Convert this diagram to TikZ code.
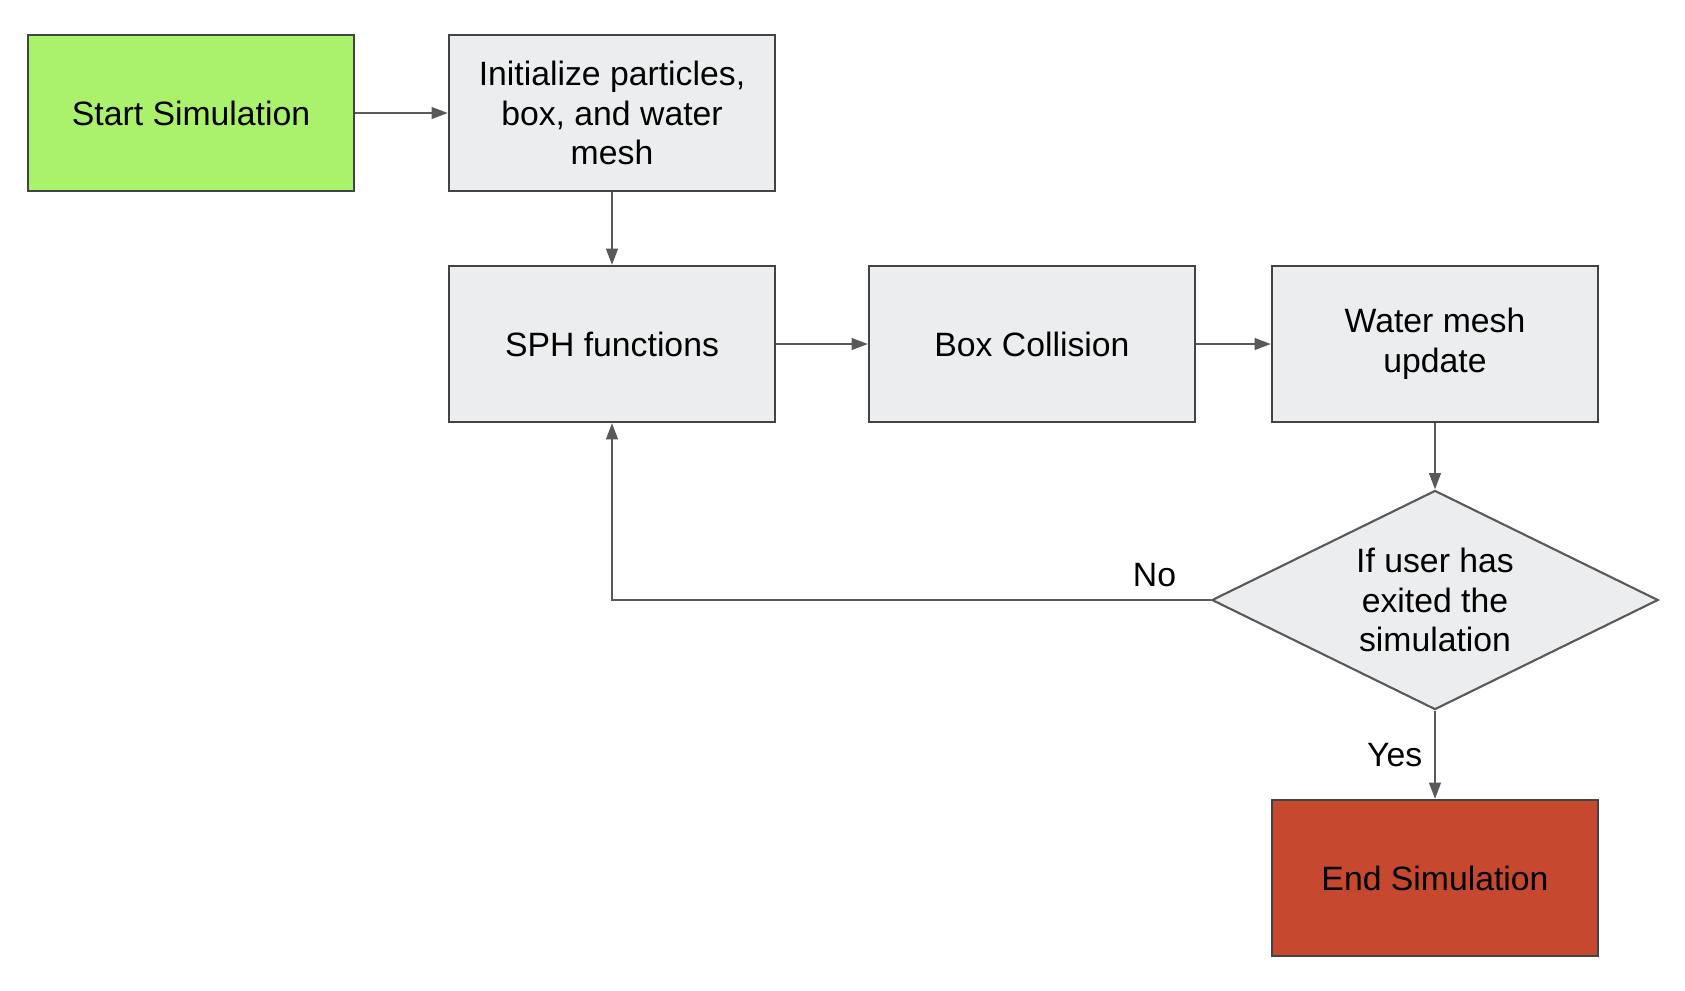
\documentclass[tikz,border=0pt]{standalone}
\usepackage{fontspec}
\setmainfont{Liberation Sans}
\usetikzlibrary{
  positioning,
  arrows.meta,
  shapes.geometric
}
\definecolor{startgreen}{HTML}{ABF26C}
\definecolor{stepgrey}{HTML}{ECEDEE}
\definecolor{endred}{HTML}{C5482F}
\definecolor{edgegrey}{HTML}{434343}
\definecolor{linegrey}{HTML}{595959}

\begin{document}
\begin{tikzpicture}[
    x=0.01cm, y=-0.01cm, >={Triangle[length=4.6pt,width=3.3pt]},
    font=\fontsize{9.6}{11.3}\selectfont,
    stepbox/.style={
      rectangle,
      draw=edgegrey,
      fill=stepgrey,
      line width=0.6pt,
      align=center,
      minimum width=3.26cm,
      minimum height=1.56cm,
      inner sep=0pt
    },
    decision/.style={
      diamond,
      draw=linegrey,
      fill=stepgrey,
      line width=0.6pt,
      align=center,
      aspect=2,
      minimum width=4.46cm,
      minimum height=2.19cm,
      inner sep=0pt
    },
    flow/.style={
      draw=linegrey,
      line width=0.6pt,
      ->
    }
  ]
  \useasboundingbox (0,0) rectangle (1685,990);

  \begin{scope}
    \node[stepbox, fill=startgreen] (start) at (191,113) {Start Simulation};
    \node[stepbox] (init) at (612,113) {Initialize particles,\\box, and water\\mesh};

    \node[stepbox] (sph) at (612,344) {SPH functions};
    \node[stepbox] (collide) at (1032,344) {Box Collision};
    \node[stepbox] (mesh) at (1435,344) {Water mesh\\update\vphantom{g}};

    \node[decision] (exited) at (1435,600) {If user has\\exited the\\simulation};

    \node[stepbox, fill=endred] (finish) at (1435,878) {End Simulation};

    \draw[flow] (start) -- (init);
    \draw[flow] (init) -- (sph);
    \draw[flow] (sph) -- (collide);
    \draw[flow] (collide) -- (mesh);
    \draw[flow] (mesh) -- (exited);
    \draw[flow] (exited.west) -| node[pos=0.047, above, name=no] {No} (sph.south);
    \draw[flow] (exited.south) -- node[midway, left, name=yes] {Yes} (finish.north);
  \end{scope}
\end{tikzpicture}
\end{document}
